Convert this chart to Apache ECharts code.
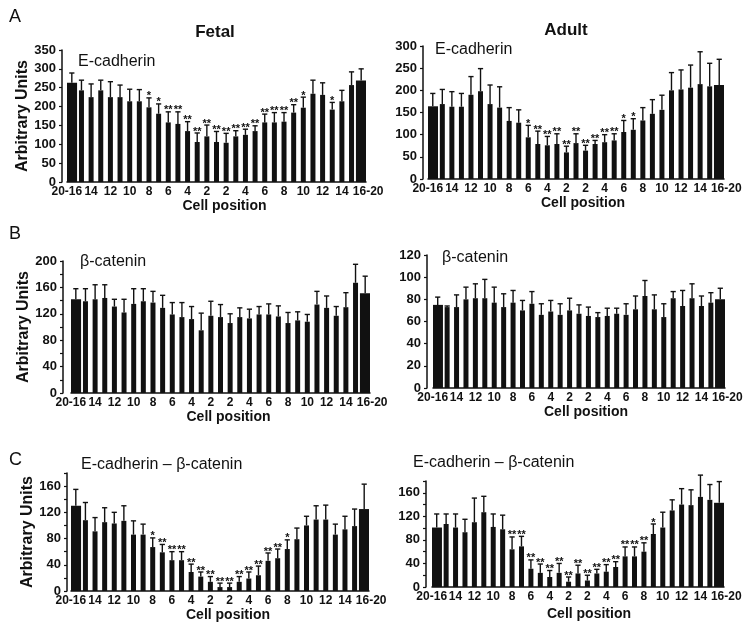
<!DOCTYPE html>
<html><head><meta charset="utf-8">
<script src="https://cdn.jsdelivr.net/npm/echarts@6/dist/echarts.min.js"></script>
<style>html,body{margin:0;padding:0;background:#fff}#c{width:744px;height:629px}</style>
</head><body><div id="c"></div>
<script>
// ---- categories (cell positions) ----
const categories = ['20-16','15','14','13','12','11','10','9','8','7','6','5','4','3','2','1','2','3','4','5','6','7','8','9','10','11','12','13','14','15','16-20'];

// ---- A: E-cadherin ----
const fetalEcadMean  = [263,243,225,243,225,225,214,214,198,181,158,154,135,106,121,106,104,121,125,135,158,158,160,184,197,234,231,192,214,257,269];
const fetalEcadUpper = [289,270,260,270,266,257,246,245,223,207,186,186,160,130,151,134,129,136,140,149,180,184,184,205,225,270,263,211,243,292,300];
const fetalEcadStars = ['','','','','','','','','*','*','**','**','**','**','**','**','**','**','**','**','**','**','**','**','*','','','*','','',''];

const adultEcadMean  = [164,169,163,163,190,198,169,161,131,127,94,79,76,79,60,81,64,79,83,87,106,111,132,147,156,200,202,206,214,209,212];
const adultEcadUpper = [193,202,197,193,231,249,212,208,161,156,121,108,96,102,74,102,76,87,100,102,132,136,161,179,189,240,246,257,287,261,270];
const adultEcadStars = ['','','','','','','','','','','*','**','**','**','**','**','**','**','**','**','*','*','','','','','','','','',''];

// ---- B: beta-catenin ----
const fetalBcatMean  = [142,139,142,144,131,122,135,139,137,129,119,115,112,95,117,115,106,115,113,119,119,116,106,110,108,134,129,117,130,167,151];
const fetalBcatUpper = [158,158,164,164,142,142,158,158,154,148,137,137,131,121,139,134,120,129,127,131,135,132,122,123,119,154,147,131,152,195,177];
const fetalBcatStars = categories.map(() => '');

const adultBcatMean  = [75,73,73,80,81,81,77,73,77,70,76,66,69,66,70,67,65,64,65,67,66,71,83,71,64,81,74,81,74,77,80];
const adultBcatUpper = [82,74,84,91,94,98,91,85,88,79,87,76,79,76,81,75,73,68,72,72,76,83,97,84,76,87,88,94,83,86,90];
const adultBcatStars = categories.map(() => '');

// ---- C: E-cadherin - beta-catenin ----
const fetalDiffMean  = [130,108,91,105,103,107,86,86,67,59,47,47,29,22,14,6,6,14,19,24,46,50,64,79,100,109,109,86,94,99,125];
const fetalDiffUpper = [155,135,112,127,120,130,107,102,81,71,60,60,41,29,22,12,12,22,29,38,58,64,78,96,114,130,131,102,114,125,163];
const fetalDiffStars = ['','','','','','','','','*','**','**','**','**','**','**','**','**','**','**','**','**','**','*','','','','','','','',''];

const adultDiffMean  = [101,107,101,93,110,127,102,98,64,69,31,24,17,24,9,23,11,23,26,34,52,52,60,90,101,130,140,139,153,148,143];
const adultDiffUpper = [124,124,124,115,151,154,124,122,85,86,46,39,28,40,17,37,20,30,38,43,68,68,75,107,127,148,167,165,190,174,179];
const adultDiffStars = ['','','','','','','','','**','**','**','**','**','**','**','**','**','**','**','**','**','**','**','*','','','','','','',''];

// ---- texts ----
const panelLetters = ['A','B','C'];
const columnTitles = ['Fetal','Adult'];
const proteinTitles = ['E-cadherin','β-catenin','E-cadherin – β-catenin'];
const xAxisTitle = 'Cell position';
const yAxisTitle = 'Arbitrary Units';

const FONT = '"Liberation Sans", Arial, sans-serif';
const INK = '#111';

const panels = [
  {mean: fetalEcadMean, upper: fetalEcadUpper, stars: fetalEcadStars, max: 350, tick: 50, step: 50,
   grid: {left: 67, top: 50, width: 299, height: 132}, yOff: 5, yName: true, yNameGap: 23, xNameGap: 16, xNamePad: 16, title: 0, tx: 78, ty: 62},
  {mean: adultEcadMean, upper: adultEcadUpper, stars: adultEcadStars, max: 300, tick: 50, step: 50,
   grid: {left: 428, top: 46, width: 296, height: 133}, yOff: 5, yName: false, xNameGap: 16, xNamePad: 14, title: 0, tx: 435, ty: 50},
  {mean: fetalBcatMean, upper: fetalBcatUpper, stars: fetalBcatStars, max: 200, tick: 20, step: 40,
   grid: {left: 71, top: 261, width: 299, height: 132}, yOff: 8, yName: true, yNameGap: 24, xNameGap: 16, xNamePad: 16, title: 1, tx: 80, ty: 262},
  {mean: adultBcatMean, upper: adultBcatUpper, stars: adultBcatStars, max: 120, tick: 20, step: 20,
   grid: {left: 433, top: 255, width: 292, height: 133}, yOff: 6, yName: false, xNameGap: 16, xNamePad: 14, title: 1, tx: 442, ty: 258},
  {mean: fetalDiffMean, upper: fetalDiffUpper, stars: fetalDiffStars, max: 180, tick: 20, step: 40,
   grid: {left: 71, top: 473, width: 298, height: 118}, yOff: 4, yName: true, yNameGap: 27, xNameGap: 16, xNamePad: 16, title: 2, tx: 81, ty: 465},
  {mean: adultDiffMean, upper: adultDiffUpper, stars: adultDiffStars, max: 180, tick: 20, step: 40,
   grid: {left: 432, top: 481, width: 292, height: 106}, yOff: 6, yName: false, xNameGap: 20, xNamePad: 22, title: 2, tx: 413, ty: 463}
];

const grids = [], xAxes = [], yAxes = [], series = [], graphics = [];
const last = categories.length - 1;

panels.forEach((p, k) => {
  grids.push(Object.assign({outerBoundsMode: 'none', containLabel: false}, p.grid));
  xAxes.push({
    type: 'category', gridIndex: k, data: categories,
    axisLine: {lineStyle: {color: INK, width: 1.5}},
    axisTick: {show: false},
    axisLabel: {
      interval: 1, margin: 4, color: INK, fontSize: 12, fontWeight: 'bold', fontFamily: FONT,
      formatter: (v, i) => i === 0 ? '{l|' + v + '}' : (i === last ? '{r|' + v + '}' : v),
      rich: {
        l: {padding: [0, 10, 0, 0], fontSize: 12, fontWeight: 'bold', fontFamily: FONT, color: INK},
        r: {padding: [0, 0, 0, 14], fontSize: 12, fontWeight: 'bold', fontFamily: FONT, color: INK}
      }
    },
    name: xAxisTitle, nameLocation: 'middle', nameGap: p.xNameGap,
    nameTextStyle: {fontSize: 14, fontWeight: 'bold', color: INK, fontFamily: FONT, padding: [0, 0, 0, p.xNamePad]}
  });
  xAxes.push({type: 'category', gridIndex: k, data: categories, show: false});
  yAxes.push({
    type: 'value', gridIndex: k, min: 0, max: p.max, interval: p.tick, offset: p.yOff,
    axisLine: {show: true, lineStyle: {color: INK, width: 1.5}},
    axisTick: {show: true, length: 3, lineStyle: {color: INK, width: 1.2}},
    splitLine: {show: false},
    axisLabel: {margin: 6, color: INK, fontSize: 13, fontWeight: 'bold', fontFamily: FONT,
      formatter: v => (v % p.step === 0 ? String(v) : '')},
    name: p.yName ? yAxisTitle : '', nameLocation: 'middle', nameGap: p.yNameGap || 0,
    nameTextStyle: {fontSize: 16, fontWeight: 'bold', color: INK, fontFamily: FONT}
  });
  series.push({
    type: 'bar', xAxisIndex: 2 * k, yAxisIndex: k, barWidth: 5, silent: true,
    itemStyle: {color: INK},
    data: p.mean.map((v, i) => (i === 0 || i === last) ? '-' : v)
  });
  series.push({
    type: 'bar', xAxisIndex: 2 * k + 1, yAxisIndex: k, barWidth: 10.5, silent: true,
    itemStyle: {color: INK},
    data: p.mean.map((v, i) => (i === 0 || i === last) ? v : '-')
  });
  series.push({
    type: 'custom', xAxisIndex: 2 * k, yAxisIndex: k, silent: true, clip: false, z: 3,
    data: p.mean.map((v, i) => [i, v, p.upper[i]]),
    renderItem: (params, api) => {
      const b = api.coord([api.value(0), api.value(1)]);
      const t = api.coord([api.value(0), api.value(2)]);
      const st = p.stars[params.dataIndex];
      const children = [
        {type: 'line', shape: {x1: b[0], y1: b[1], x2: b[0], y2: t[1]}, style: {stroke: INK, lineWidth: 1.4}},
        {type: 'line', shape: {x1: b[0] - 2.6, y1: t[1], x2: b[0] + 2.6, y2: t[1]}, style: {stroke: INK, lineWidth: 1.4}}
      ];
      if (st) {
        children.push({type: 'text', style: {text: st, x: b[0], y: t[1] + 4, align: 'center', verticalAlign: 'bottom',
          font: 'bold 11px ' + FONT, fill: INK}});
      }
      return {type: 'group', children};
    }
  });
  graphics.push({type: 'text', x: p.tx, y: p.ty, style: {text: proteinTitles[p.title], align: 'left', verticalAlign: 'middle',
    font: '16px ' + FONT, fill: INK}});
});

graphics.push({type: 'text', x: 9, y: 17, style: {text: panelLetters[0], verticalAlign: 'middle', font: '18px ' + FONT, fill: INK}});
graphics.push({type: 'text', x: 9, y: 234, style: {text: panelLetters[1], verticalAlign: 'middle', font: '18px ' + FONT, fill: INK}});
graphics.push({type: 'text', x: 9, y: 460, style: {text: panelLetters[2], verticalAlign: 'middle', font: '18px ' + FONT, fill: INK}});
graphics.push({type: 'text', x: 215, y: 32, style: {text: columnTitles[0], align: 'center', verticalAlign: 'middle', font: 'bold 17px ' + FONT, fill: INK}});
graphics.push({type: 'text', x: 566, y: 30, style: {text: columnTitles[1], align: 'center', verticalAlign: 'middle', font: 'bold 17px ' + FONT, fill: INK}});

const chart = echarts.init(document.getElementById('c'), null, {renderer: 'canvas'});
chart.setOption({
  backgroundColor: '#fff',
  animation: false,
  textStyle: {fontFamily: FONT},
  grid: grids, xAxis: xAxes, yAxis: yAxes, series: series, graphic: graphics
});
</script></body></html>
